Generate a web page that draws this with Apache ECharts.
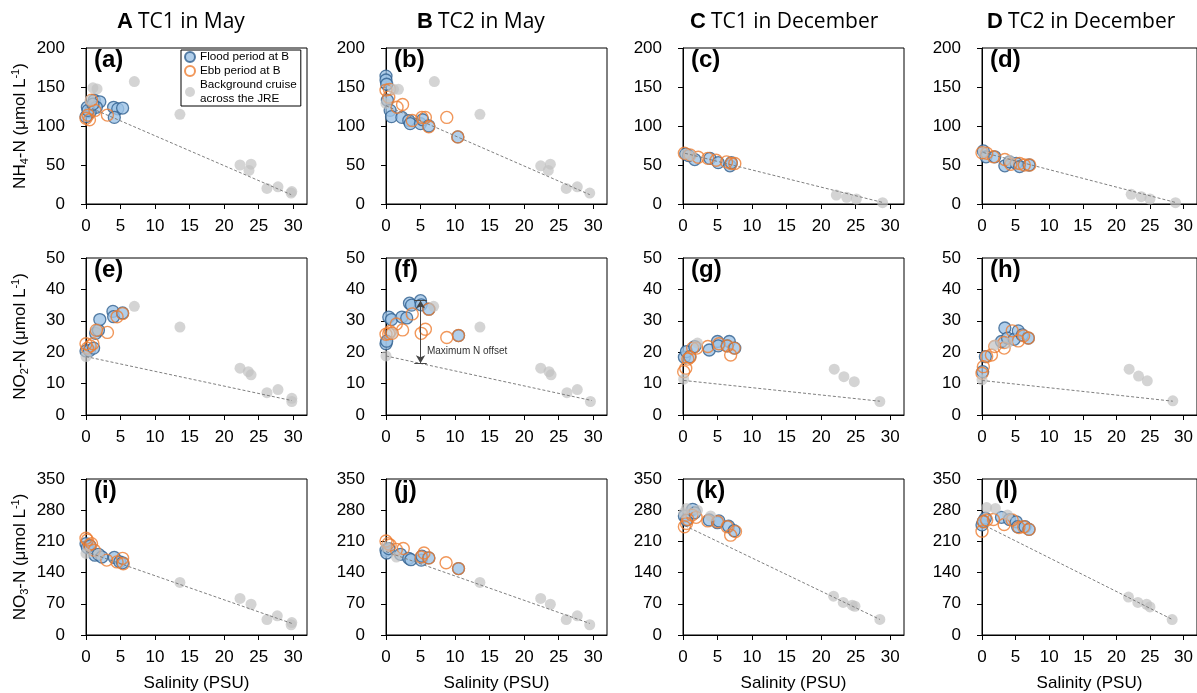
<!DOCTYPE html>
<html><head><meta charset="utf-8">
<script src="https://cdn.jsdelivr.net/npm/echarts/dist/echarts.min.js"></script>
<style>html,body{margin:0;padding:0;background:#fff}#c{width:1197px;height:693px}</style>
</head><body><div id="c"></div>
<script>
// ---------- DATA (salinity, concentration) ----------
const colTitles = [['A','TC1 in May'],['B','TC2 in May'],['C','TC1 in December'],['D','TC2 in December']];
const panelLetters = ['(a)','(b)','(c)','(d)','(e)','(f)','(g)','(h)','(i)','(j)','(k)','(l)'];
const xTicks = [0,5,10,15,20,25,30];
const yRanges = [[0,200,50],[0,50,10],[0,350,70]];

const a_flood = [[0.2,124],[1.2,133],[2.0,131],[1.5,124],[0.6,118],[0.0,112],[4.0,124],[4.6,122],[5.3,123],[4.1,111],[0.3,120],[1.0,128]];
const a_ebb = [[0,110],[0.3,114],[0.8,133],[3.1,114],[1.3,120],[0.5,108]];
const a_bg = [[1.0,149],[1.6,147.5],[0.6,133],[7.0,157],[13.6,115],[22.3,50],[23.9,51],[23.6,43],[26.2,20],[27.8,22],[29.7,14],[29.8,16]];
const a_mix = [[0.2,125],[29.7,12]];

const b_flood = [[0,164],[0,159],[0.1,153.5],[0.2,133],[0.6,120],[0.8,112],[2.3,111],[3.3,107],[3.5,103],[5.0,103],[5.3,108],[6.2,100],[10.4,86]];
const b_ebb = [[0,146],[0.5,147],[0.4,137],[1.6,124],[2.4,127.5],[5.2,111],[5.7,111],[8.8,111],[3.8,107],[6.2,99],[10.4,86]];
const b_bg = [[0,129],[1.1,147],[1.8,147],[7.0,157],[13.6,115],[22.4,49],[23.8,51],[23.5,43],[26.1,20],[27.7,22],[29.5,14]];
const b_mix = [[0,126],[29.5,12]];

const c_flood = [[0.4,64],[1.7,57],[3.9,58.5],[5.1,53],[6.8,49],[7.0,53],[0.8,62]];
const c_ebb = [[0.2,65],[1.0,63],[2.2,60],[3.6,58.5],[6.3,54],[7.5,52],[7.0,52],[4.8,56]];
const c_bg = [[0.4,64],[1.2,62],[22.2,11.5],[23.7,8.5],[25.1,6.4],[28.9,1.7]];
const c_mix = [[0.3,65],[28.9,2]];

const d_flood = [[0.2,68],[0.6,60.5],[1.9,60.5],[3.4,49],[4.1,54],[5.1,52],[5.6,48],[7.0,50]];
const d_ebb = [[0,65.7],[0.7,65],[1.7,60.5],[3.4,57],[4.3,51],[5.6,52],[6.3,50],[7.1,50]];
const d_bg = [[0.2,66],[4.1,56],[22.2,12.4],[23.7,9.4],[25,6.4],[28.8,1.7]];
const d_mix = [[0.2,66],[28.8,2]];

const e_flood = [[0,20.4],[0.5,20.5],[1.1,21.3],[1.4,26],[1.8,27],[2.0,30.4],[3.9,33],[4.0,31.3],[5.3,32.5]];
const e_ebb = [[0,22.7],[0.6,22],[1.0,22.7],[1.5,27],[3.1,26.3],[4.5,31.3],[5.3,32.3],[0.2,21.3]];
const e_bg = [[0,18.6],[1.5,27],[7.0,34.6],[13.6,28],[22.3,14.9],[23.5,13.8],[23.9,12.8],[26.2,7.1],[27.8,8.1],[29.8,5.3],[29.8,4.3]];
const e_mix = [[0,18.6],[29.8,4.6]];

const f_flood = [[0,22.7],[0.1,23.5],[0.4,31.2],[0.8,30.4],[2.3,31.2],[3.0,30.9],[3.4,35.6],[3.7,35],[5.0,36.4],[5.1,35.1],[6.2,33.7],[10.5,25.3]];
const f_ebb = [[0,25.7],[0.4,25.9],[0.9,26],[1.5,29],[2.4,27.1],[3.8,32.2],[5.1,26],[5.7,27.3],[6.2,33.7],[8.8,24.7],[10.5,25.3],[0.6,26.6]];
const f_bg = [[0,18.8],[0.9,26],[6.9,34.6],[13.6,28],[22.4,14.9],[23.6,13.8],[23.9,12.8],[26.2,7.1],[27.7,8.1],[29.6,4.3]];
const f_mix = [[0,18.8],[29.8,4.6]];
const f_offset = [5.0, 36.5, 16.5];   // x, top, bottom of "Maximum N offset" arrow

const g_flood = [[0.2,18.4],[0.5,20.2],[1.0,18.6],[1.7,21.8],[3.8,20.7],[5.0,23.4],[5.1,22],[6.7,23.4],[6.4,22],[7.5,21.3]];
const g_ebb = [[0.1,13.8],[0.4,14.9],[0.7,17.8],[1.0,18.4],[1.4,21.3],[2.0,21.3],[3.6,21.8],[5.2,22.7],[6.4,22],[6.9,19.1],[7.4,21.3]];
const g_bg = [[0.1,11.4],[2.1,22.9],[21.9,14.6],[23.3,12.2],[24.8,10.6],[28.5,4.3]];
const g_mix = [[0.1,11],[28.5,4.4]];

const h_flood = [[0.1,13.8],[0.5,18.6],[2.9,23.4],[3.4,27.7],[3.8,24.5],[4.8,24.1],[5.4,26.8],[6.0,25.5],[6.9,24.5]];
const h_ebb = [[0,13.3],[0.2,15.4],[0.7,18.6],[1.4,19.1],[1.9,21.8],[3.3,23.1],[3.3,21.3],[4.5,26.8],[5.4,23.6],[6.2,25.2],[6.9,24.5]];
const h_bg = [[0,11.2],[1.9,22.3],[3.8,22.9],[21.9,14.6],[23.3,12.4],[24.6,10.9],[28.4,4.5]];
const h_mix = [[0,11],[28.4,4.4]];

const i_flood = [[0,205],[0.2,196],[0.6,200],[1.3,179],[1.8,181],[2.3,175],[4.1,174],[4.9,164],[5.3,162]];
const i_ebb = [[0,217],[0.2,213],[0.5,202],[0.8,205],[1.2,190],[3.0,168],[4.5,164],[5.3,172],[5.4,160]];
const i_bg = [[0,183],[1.8,181],[13.6,118],[22.3,82],[23.9,69],[26.2,34.5],[27.7,43],[29.8,28],[29.7,23]];
const i_mix = [[0,187],[29.8,26]];

const j_flood = [[0,190],[0.1,184],[0.4,194],[2.1,181],[3.3,172],[3.6,169],[5.1,168],[5.2,177],[6.2,173],[10.5,149]];
const j_ebb = [[0,211],[0.3,205],[0.6,202],[2.5,194],[5.5,184],[5.1,175],[8.7,162],[10.5,149],[6.2,173],[1.5,192]];
const j_bg = [[0,198],[1.5,175],[13.6,118],[22.4,82],[23.8,69],[26.1,34.5],[27.7,43],[29.5,23]];
const j_mix = [[0,187],[29.5,26]];

const k_flood = [[0.2,267],[0.5,258],[1.4,282],[1.7,274],[3.8,258],[5.0,252],[5.2,256],[6.6,244],[7.4,234]];
const k_ebb = [[0.2,243],[0.5,250],[0.7,259],[1.3,269],[1.9,264],[3.6,256],[5.0,254],[6.9,224],[7.6,232],[6.4,243]];
const k_bg = [[0.1,274],[0.5,284],[2.1,280],[4.0,267],[21.8,87],[23.2,73],[24.5,67],[24.9,64.5],[28.5,35]];
const k_mix = [[0.3,245],[28.5,35]];

const l_flood = [[0,247],[0.5,262],[2.9,264],[4.1,259],[5.1,254],[5.3,243],[6.4,243],[7.0,237],[0.2,255]];
const l_ebb = [[0,233],[0.2,254],[0.7,258],[1.7,259],[3.3,248],[4.5,258],[5.5,241],[6.2,243],[7.0,237]];
const l_bg = [[0.7,286],[2.0,284],[3.8,269],[21.8,85],[23.2,73],[24.5,69],[25.0,63],[28.3,34.5]];
const l_mix = [[0.5,245],[28.3,35]];

const floods = [a_flood,b_flood,c_flood,d_flood,e_flood,f_flood,g_flood,h_flood,i_flood,j_flood,k_flood,l_flood];
const ebbs = [a_ebb,b_ebb,c_ebb,d_ebb,e_ebb,f_ebb,g_ebb,h_ebb,i_ebb,j_ebb,k_ebb,l_ebb];
const bgs = [a_bg,b_bg,c_bg,d_bg,e_bg,f_bg,g_bg,h_bg,i_bg,j_bg,k_bg,l_bg];
const mixes = [a_mix,b_mix,c_mix,d_mix,e_mix,f_mix,g_mix,h_mix,i_mix,j_mix,k_mix,l_mix];

// ---------- LAYOUT ----------
const FONT = "'Liberation Sans', Arial, sans-serif";
const colLeft = [86, 386, 683, 982];
const rowTop = [48, 258, 479];
const rowH = [156, 157, 156];
const W = 221;
const yNames = [
  '{n|NH}{s|4}{n|-N (μmol L}{p|-1}{n|)}',
  '{n|NO}{s|2}{n|-N (μmol L}{p|-1}{n|)}',
  '{n|NO}{s|3}{n|-N (μmol L}{p|-1}{n|)}'
];
const NAME_FLOOD = 'Flood period at B', NAME_EBB = 'Ebb period at B', NAME_BG = 'Background cruise';

const grids = [], xAxes = [], yAxes = [], series = [], titles = [];
for (let r = 0; r < 3; r++) {
  for (let c = 0; c < 4; c++) {
    const gi = r * 4 + c;
    grids.push({left: colLeft[c], top: rowTop[r], width: W, height: rowH[r], show: true, borderColor: '#000', borderWidth: 1, containLabel: false});
    xAxes.push({
      type: 'value', gridIndex: gi, min: 0, max: 32, interval: 5,
      axisLine: {show: true, onZero: false, lineStyle: {color: '#000', width: 1}},
      axisTick: {show: true, length: 5, customValues: xTicks, lineStyle: {color: '#000'}},
      axisLabel: {customValues: xTicks, fontSize: 17, fontFamily: FONT, color: '#000', margin: 14},
      splitLine: {show: false},
      name: r === 2 ? 'Salinity (PSU)' : '', nameLocation: 'middle', nameGap: 40,
      nameTextStyle: {fontSize: 17, fontFamily: FONT, color: '#000'}
    });
    const yr = yRanges[r];
    yAxes.push({
      type: 'value', gridIndex: gi, min: yr[0], max: yr[1], interval: yr[2],
      axisLine: {show: true, onZero: false, lineStyle: {color: '#000', width: 1}},
      axisTick: {show: true, length: 5, lineStyle: {color: '#000'}},
      axisLabel: {fontSize: 17, fontFamily: FONT, color: '#000', margin: 21},
      splitLine: {show: false},
      name: c === 0 ? yNames[r] : '', nameLocation: 'middle', nameRotate: 90, nameGap: 56,
      nameTextStyle: {fontSize: 17, fontFamily: FONT, color: '#000',
        rich: {
          n: {fontSize: 17, fontFamily: FONT, color: '#000', lineHeight: 20, verticalAlign: 'middle'},
          s: {fontSize: 11, fontFamily: FONT, color: '#000', lineHeight: 20, verticalAlign: 'bottom'},
          p: {fontSize: 11, fontFamily: FONT, color: '#000', lineHeight: 20, verticalAlign: 'top'}
        }}
    });
    series.push({type: 'line', name: 'mix', xAxisIndex: gi, yAxisIndex: gi, data: mixes[gi], symbol: 'none', silent: true,
      lineStyle: {color: '#7f7f7f', width: 1, type: [3, 2]}});
    series.push({type: 'scatter', name: NAME_FLOOD, xAxisIndex: gi, yAxisIndex: gi, data: floods[gi], symbolSize: 12,
      itemStyle: {color: '#9dc3e6', borderColor: '#2f5f8f', borderWidth: 1.3}});
    series.push({type: 'scatter', name: NAME_EBB, xAxisIndex: gi, yAxisIndex: gi, data: ebbs[gi], symbolSize: 12,
      itemStyle: {color: 'rgba(255,255,255,0)', borderColor: '#ed7d31', borderWidth: 1.4}});
    series.push({type: 'scatter', name: NAME_BG, xAxisIndex: gi, yAxisIndex: gi, data: bgs[gi], symbolSize: 11,
      itemStyle: {color: '#c2c2c2', opacity: 0.7}});
    titles.push({text: panelLetters[gi], left: colLeft[c] + (r === 2 && c >= 2 ? 13 : 8), top: rowTop[r], padding: 0,
      textStyle: {fontSize: 24, fontWeight: 'bold', fontFamily: FONT, color: '#000'}});
  }
}
// annotation in panel (f)
series.push({type: 'line', name: 'offset', xAxisIndex: 5, yAxisIndex: 5, data: [], silent: true,
  markLine: {silent: true, symbol: ['none', 'none'], label: {show: false}, animation: false,
    data: [
      [{coord: [f_offset[0], f_offset[1]], symbol: 'arrow', symbolSize: [7, 8]}, {coord: [f_offset[0], f_offset[2]], symbol: 'arrow', symbolSize: [7, 8]}],
      [{coord: [f_offset[0] - 0.9, f_offset[1]]}, {coord: [f_offset[0] + 0.9, f_offset[1]]}],
      [{coord: [f_offset[0] - 0.9, f_offset[2]]}, {coord: [f_offset[0] + 0.9, f_offset[2]]}]
    ],
    lineStyle: {color: '#444', width: 1, type: 'solid'}},
  markPoint: {silent: true, animation: false, data: [{coord: [f_offset[0] + 0.2, 20.4], symbol: 'circle', symbolSize: 0,
    label: {show: true, position: 'right', distance: 5, formatter: 'Maximum N offset', fontSize: 10, fontFamily: FONT, color: '#333'}}]}
});

const headLeft = [117, 417, 690, 987];
colTitles.forEach((t, c) => {
  titles.push({text: '{b|' + t[0] + '} {n|' + t[1] + '}', left: headLeft[c], top: 11, padding: 0,
    textStyle: {fontWeight: 'normal', rich: {
      b: {fontSize: 22, fontWeight: 'bold', fontFamily: FONT, color: '#000'},
      n: {fontSize: 21, fontWeight: 'normal', fontFamily: "'Open Sans', sans-serif", color: '#000'}
    }}});
});

const chart = echarts.init(document.getElementById('c'), null, {renderer: 'canvas'});
chart.setOption({
  animation: false,
  backgroundColor: '#fff',
  title: titles,
  legend: {
    data: [NAME_FLOOD, NAME_EBB, NAME_BG], orient: 'vertical', left: 181, top: 50,
    padding: [0, 4, 0, 3], itemGap: 0, itemWidth: 10, itemHeight: 10,
    borderColor: '#000', borderWidth: 1, backgroundColor: '#fff',
    formatter: n => n === NAME_BG ? 'Background cruise\nacross the JRE' : n,
    textStyle: {fontSize: 11.7, fontFamily: FONT, color: '#000', lineHeight: 14}
  },
  grid: grids, xAxis: xAxes, yAxis: yAxes, series: series
});
</script></body></html>
